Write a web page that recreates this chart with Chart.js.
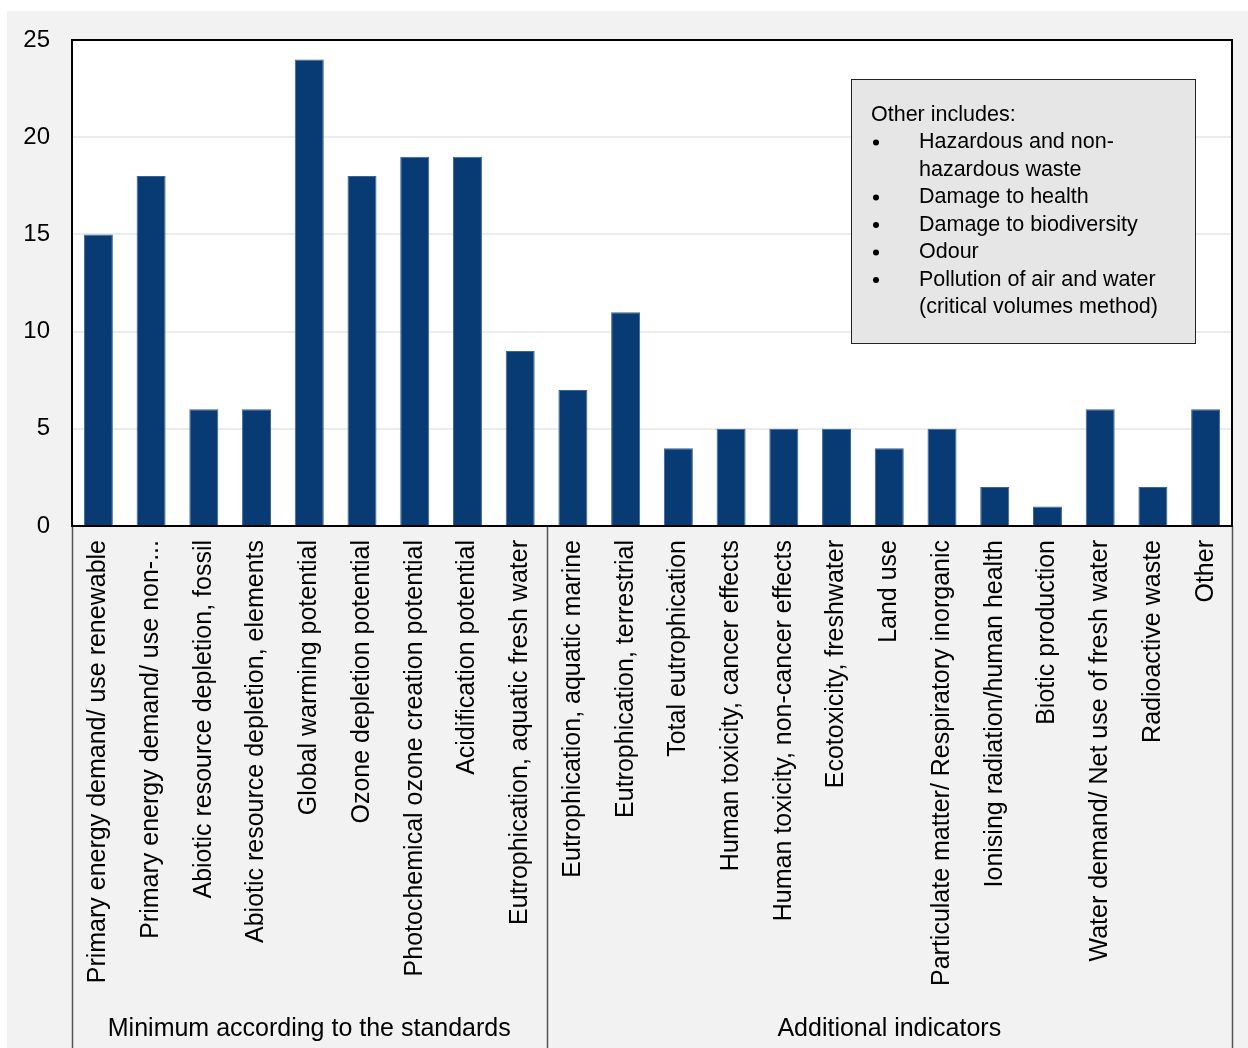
<!DOCTYPE html>
<html>
<head>
<meta charset="utf-8">
<script src="https://cdn.jsdelivr.net/npm/chart.js@4/dist/chart.umd.min.js"></script>
<style>
  html, body { margin: 0; padding: 0; background: #ffffff; }
  #wrap { position: absolute; left: 7px; top: 11px; width: 1241px; height: 1037px; }
</style>
</head>
<body>
<div id="wrap"><canvas id="c" width="1241" height="1037"></canvas></div>
<script>
const categories = [
  "Primary energy demand/ use renewable",
  "Primary energy demand/ use non-...",
  "Abiotic resource depletion, fossil",
  "Abiotic resource depletion, elements",
  "Global warming potential",
  "Ozone depletion potential",
  "Photochemical ozone creation potential",
  "Acidification potential",
  "Eutrophication, aquatic fresh water",
  "Eutrophication, aquatic marine",
  "Eutrophication, terrestrial",
  "Total eutrophication",
  "Human toxicity, cancer effects",
  "Human toxicity, non-cancer effects",
  "Ecotoxicity, freshwater",
  "Land use",
  "Particulate matter/ Respiratory inorganic",
  "Ionising radiation/human health",
  "Biotic production",
  "Water demand/ Net use of fresh water",
  "Radioactive waste",
  "Other"
];
const counts = [15, 18, 6, 6, 24, 18, 19, 19, 9, 7, 11, 4, 5, 5, 5, 4, 5, 2, 1, 6, 2, 6];
const groupLabels = ["Minimum according to the standards", "Additional indicators"];
const groupStarts = [0, 9];
const groupEnds = [8, 21];
const yMin = 0, yMax = 25, yStep = 5;
const noteTitle = "Other includes:";
const noteItems = [
  ["Hazardous and non-", "hazardous waste"],
  ["Damage to health"],
  ["Damage to biodiversity"],
  ["Odour"],
  ["Pollution of air and water", "(critical volumes method)"]
];

const FONT = "'Liberation Sans', Arial, sans-serif";

const decor = {
  id: 'decor',
  beforeDraw(chart) {
    const ctx = chart.ctx, a = chart.chartArea;
    ctx.save();
    ctx.fillStyle = '#f2f2f2';
    ctx.fillRect(0, 0, chart.width, chart.height);
    ctx.fillStyle = '#ffffff';
    ctx.fillRect(a.left, a.top, a.right - a.left, a.bottom - a.top);
    ctx.restore();
  },
  afterDraw(chart) {
    const ctx = chart.ctx, a = chart.chartArea, xs = chart.scales.x;
    ctx.save();
    // group separators
    ctx.strokeStyle = '#555555';
    ctx.lineWidth = 1.5;
    const bounds = [a.left];
    for (let g = 1; g < groupStarts.length; g++) {
      bounds.push((xs.getPixelForValue(groupStarts[g] - 1) + xs.getPixelForValue(groupStarts[g])) / 2);
    }
    bounds.push(a.right);
    bounds.forEach(x => {
      ctx.beginPath();
      ctx.moveTo(Math.round(x) + 0.5, a.bottom);
      ctx.lineTo(Math.round(x) + 0.5, chart.height);
      ctx.stroke();
    });
    // group labels
    ctx.fillStyle = '#000000';
    ctx.font = '25px ' + FONT;
    ctx.textAlign = 'center';
    ctx.textBaseline = 'middle';
    for (let g = 0; g < groupLabels.length; g++) {
      const cx = (bounds[g] + bounds[g + 1]) / 2;
      ctx.fillText(groupLabels[g], cx, 1018);
    }
    // plot border
    ctx.strokeStyle = '#000000';
    ctx.lineWidth = 2;
    ctx.strokeRect(a.left, a.top, a.right - a.left, a.bottom - a.top);
    // note box
    const bx = 844, by = 68, bw = 344, bh = 264;
    ctx.fillStyle = '#e6e6e6';
    ctx.fillRect(bx, by, bw, bh);
    ctx.strokeStyle = '#222222';
    ctx.lineWidth = 1;
    ctx.strokeRect(bx + 0.5, by + 0.5, bw, bh);
    ctx.fillStyle = '#000000';
    ctx.font = '21.5px ' + FONT;
    ctx.textAlign = 'left';
    ctx.textBaseline = 'middle';
    let y = 104;
    const lh = 27.5;
    ctx.fillText(noteTitle, 864, y);
    noteItems.forEach(item => {
      y += lh;
      ctx.beginPath();
      ctx.arc(869, y, 3, 0, Math.PI * 2);
      ctx.fill();
      item.forEach((line, i) => {
        if (i > 0) y += lh;
        ctx.fillText(line, 912, y);
      });
    });
    ctx.restore();
  }
};

new Chart(document.getElementById('c'), {
  type: 'bar',
  data: {
    labels: categories,
    datasets: [{
      data: counts,
      backgroundColor: '#083a74',
      borderColor: '#3a6396',
      borderWidth: 1,
      barPercentage: 0.55,
      categoryPercentage: 1.0
    }]
  },
  options: {
    responsive: false,
    animation: false,
    layout: { padding: { top: 29, right: 16, left: 0, bottom: 0 } },
    plugins: { legend: { display: false }, tooltip: { enabled: false } },
    scales: {
      x: {
        grid: { display: false, drawTicks: false },
        border: { display: true, color: '#000000', width: 2 },
        ticks: {
          autoSkip: false, maxRotation: 90, minRotation: 90, padding: 14,
          color: '#000000', font: { family: FONT, size: 25 }
        },
        afterFit(scale) { scale.height = 522; scale.paddingRight = 0; scale.paddingLeft = 0; }
      },
      y: {
        min: yMin, max: yMax,
        grid: { color: '#ececec', lineWidth: 2, drawTicks: true, tickLength: 19, tickColor: 'rgba(0,0,0,0)' },
        border: { display: true, color: '#000000', width: 2 },
        ticks: {
          stepSize: yStep, padding: 3, color: '#000000',
          font: { family: FONT, size: 24 }
        },
        afterFit(scale) { scale.width = 65; }
      }
    }
  },
  plugins: [decor]
});
</script>
</body>
</html>
